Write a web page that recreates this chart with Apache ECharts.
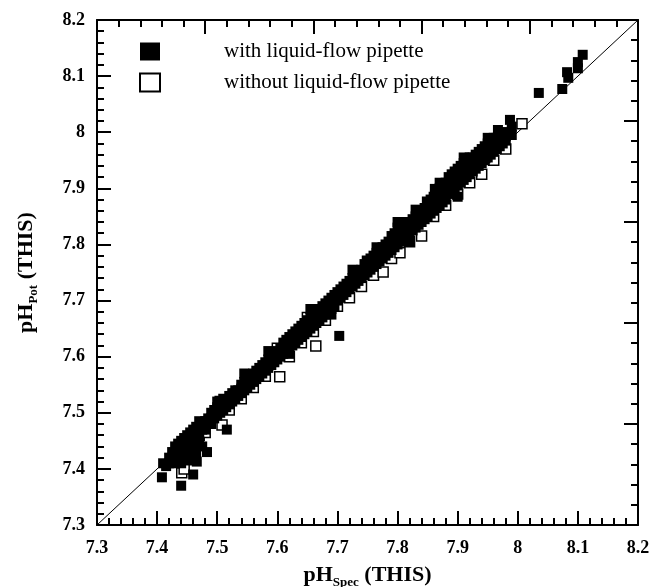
<!doctype html>
<html>
<head>
<meta charset="utf-8">
<title>pH spec vs pot</title>
<script src="https://cdn.jsdelivr.net/npm/echarts@6/dist/echarts.min.js"></script>
<style>
  html, body { margin: 0; padding: 0; background: #fff; }
  #main { width: 653px; height: 587px; }
</style>
</head>
<body>
<div id="main"></div>
<script>
// axis range and tick labels
var axisMin = 7.3, axisMax = 8.2, axisStep = 0.1;
var seriesNames = ['with liquid-flow pipette', 'without liquid-flow pipette'];

// 1:1 reference line ends
var diagLine = [[7.3, 7.3], [8.2, 8.2]];

// with liquid-flow pipette  [pHspec, pHpot]
var withPipette = [
  [7.41,7.41],[7.415,7.405],[7.42,7.41],[7.42,7.42],[7.425,7.43],[7.425,7.415],[7.43,7.44],[7.43,7.42],[7.43,7.41],
  [7.435,7.445],[7.435,7.43],[7.44,7.45],[7.44,7.44],[7.44,7.425],[7.44,7.41],[7.445,7.455],[7.445,7.435],
  [7.45,7.46],[7.45,7.445],[7.45,7.43],[7.455,7.465],[7.455,7.45],[7.455,7.42],[7.46,7.47],[7.46,7.455],[7.46,7.44],
  [7.465,7.475],[7.465,7.46],[7.465,7.43],[7.47,7.485],[7.47,7.465],[7.47,7.45],[7.475,7.47],[7.48,7.485],[7.48,7.47],
  [7.483,7.43],[7.485,7.49],[7.49,7.49],[7.49,7.48],[7.475,7.44],[7.45,7.415],[7.435,7.415],
  [7.408,7.385],[7.44,7.37],[7.46,7.39],[7.466,7.413],[7.516,7.47],
  [7.49,7.50],[7.495,7.505],[7.495,7.49],[7.50,7.51],[7.50,7.495],[7.50,7.52],[7.505,7.51],[7.505,7.50],
  [7.51,7.525],[7.51,7.505],[7.515,7.52],[7.515,7.51],[7.52,7.53],[7.52,7.515],[7.525,7.535],[7.525,7.52],
  [7.53,7.54],[7.53,7.525],[7.535,7.54],[7.535,7.53],[7.54,7.55],[7.54,7.535],[7.545,7.555],[7.545,7.54],
  [7.55,7.56],[7.55,7.545],[7.555,7.565],[7.555,7.55],[7.56,7.57],[7.56,7.555],[7.565,7.575],[7.565,7.56],
  [7.57,7.58],[7.57,7.565],[7.575,7.585],[7.575,7.57],[7.58,7.59],[7.58,7.575],[7.585,7.595],[7.585,7.58],
  [7.59,7.60],[7.59,7.585],[7.595,7.605],[7.595,7.59],[7.60,7.61],[7.60,7.595],[7.605,7.615],[7.605,7.60],
  [7.61,7.625],[7.61,7.605],[7.615,7.63],[7.615,7.61],[7.62,7.635],[7.62,7.615],[7.625,7.64],[7.625,7.62],
  [7.63,7.645],[7.63,7.625],[7.635,7.65],[7.635,7.63],[7.64,7.655],[7.64,7.635],[7.645,7.66],[7.645,7.64],
  [7.65,7.665],[7.65,7.645],[7.655,7.67],[7.655,7.65],[7.66,7.675],[7.66,7.655],[7.665,7.68],[7.665,7.66],
  [7.67,7.685],[7.67,7.665],[7.675,7.69],[7.675,7.67],[7.68,7.695],[7.68,7.675],[7.685,7.70],[7.685,7.68],
  [7.69,7.705],[7.69,7.685],[7.695,7.71],[7.695,7.69],[7.70,7.715],[7.70,7.70],[7.705,7.72],[7.705,7.705],
  [7.71,7.725],[7.71,7.71],[7.715,7.73],[7.715,7.715],[7.72,7.735],[7.72,7.72],[7.725,7.74],[7.725,7.725],
  [7.73,7.745],[7.73,7.73],[7.735,7.75],[7.735,7.735],[7.74,7.755],[7.74,7.74],[7.745,7.765],[7.745,7.745],
  [7.75,7.77],[7.75,7.75],[7.755,7.775],[7.755,7.755],[7.76,7.78],[7.76,7.76],[7.765,7.785],[7.765,7.765],
  [7.77,7.79],[7.77,7.77],[7.775,7.795],[7.775,7.775],[7.78,7.80],[7.78,7.78],[7.785,7.805],[7.785,7.785],
  [7.79,7.815],[7.79,7.79],[7.795,7.82],[7.795,7.795],[7.80,7.83],[7.80,7.80],[7.805,7.835],[7.805,7.805],
  [7.81,7.835],[7.81,7.81],[7.815,7.84],[7.815,7.815],[7.82,7.84],[7.82,7.82],[7.825,7.845],[7.825,7.825],
  [7.83,7.85],[7.83,7.83],[7.835,7.855],[7.835,7.835],[7.84,7.86],[7.84,7.84],[7.845,7.865],[7.845,7.845],
  [7.85,7.875],[7.85,7.85],[7.855,7.88],[7.855,7.855],[7.86,7.885],[7.86,7.86],[7.865,7.89],[7.865,7.865],
  [7.87,7.90],[7.87,7.87],[7.875,7.905],[7.875,7.875],[7.88,7.91],[7.88,7.88],[7.885,7.92],[7.885,7.89],
  [7.89,7.925],[7.89,7.895],[7.895,7.93],[7.895,7.90],[7.90,7.935],[7.90,7.905],[7.905,7.94],[7.905,7.91],
  [7.91,7.945],[7.91,7.915],[7.915,7.95],[7.915,7.92],[7.92,7.955],[7.92,7.925],[7.925,7.955],[7.925,7.93],
  [7.93,7.96],[7.93,7.935],[7.935,7.965],[7.935,7.94],[7.94,7.97],[7.94,7.945],[7.945,7.975],[7.945,7.95],
  [7.95,7.98],[7.95,7.955],[7.955,7.985],[7.955,7.96],[7.96,7.99],[7.96,7.965],[7.965,7.99],[7.965,7.97],
  [7.97,7.995],[7.97,7.975],[7.975,8.00],[7.975,7.98],[7.98,8.00],[7.98,7.985],[7.99,8.01],[7.99,7.995],
  // middle of the band
  [7.50,7.503],[7.51,7.515],[7.52,7.523],[7.53,7.533],[7.54,7.543],[7.55,7.553],[7.56,7.563],[7.57,7.573],
  [7.58,7.583],[7.59,7.593],[7.60,7.603],[7.61,7.616],[7.62,7.626],[7.63,7.636],[7.64,7.646],[7.65,7.656],
  [7.66,7.666],[7.67,7.676],[7.68,7.686],[7.69,7.696],[7.70,7.708],[7.71,7.718],[7.72,7.728],[7.73,7.738],
  [7.74,7.748],[7.75,7.76],[7.76,7.77],[7.77,7.78],[7.78,7.79],[7.79,7.802],[7.80,7.815],[7.81,7.822],
  [7.82,7.83],[7.83,7.84],[7.84,7.85],[7.85,7.862],[7.86,7.872],[7.87,7.885],[7.88,7.895],[7.89,7.91],
  [7.90,7.92],[7.91,7.93],[7.92,7.94],[7.93,7.948],[7.94,7.958],[7.95,7.968],[7.96,7.978],[7.97,7.985],
  [7.98,7.993],
  // bumps along the edges
  [7.585,7.61],[7.655,7.685],[7.725,7.755],[7.80,7.84],[7.83,7.862],[7.87,7.91],[7.91,7.955],[7.95,7.99],
  [7.62,7.605],[7.69,7.675],[7.82,7.805],[7.90,7.885],[7.545,7.57],[7.765,7.795],
  // isolated points
  [7.967,8.004],[7.987,8.022],[8.035,8.07],[8.074,8.077],[8.082,8.107],[8.084,8.097],[8.10,8.114],
  [8.10,8.125],[8.108,8.138],[7.703,7.637],[7.862,7.899],[7.884,7.904]
];

// without liquid-flow pipette  [pHspec, pHpot]
var withoutPipette = [
  [7.441,7.393],[7.445,7.40],[7.505,7.52],[7.508,7.478],[7.43,7.415],[7.47,7.46],[7.48,7.465],[7.52,7.505],
  [7.54,7.525],[7.56,7.545],[7.58,7.565],[7.604,7.564],[7.62,7.60],[7.64,7.625],[7.664,7.619],[7.66,7.645],
  [7.68,7.665],[7.70,7.69],[7.72,7.705],[7.74,7.725],[7.76,7.745],[7.776,7.751],[7.79,7.775],[7.804,7.785],
  [7.82,7.805],[7.84,7.815],[7.86,7.85],[7.88,7.87],[7.90,7.89],[7.92,7.91],[7.94,7.925],[7.96,7.95],
  [7.98,7.97],[8.007,8.015],[7.60,7.615],[7.65,7.67],[7.55,7.565],[7.75,7.77],[7.85,7.875],[7.945,7.955]
];

var serif = '"Liberation Serif", "DejaVu Serif", serif';

var chart = echarts.init(document.getElementById('main'));

function mainAxis(pos, title, gap) {
  return {
    type: 'value',
    position: pos,
    min: axisMin,
    max: axisMax,
    interval: axisStep,
    name: title,
    nameLocation: 'middle',
    nameGap: gap,
    nameTextStyle: {
      rich: {
        a: { fontFamily: serif, fontWeight: 'bold', fontSize: 22, color: '#000', lineHeight: 28, verticalAlign: 'middle' },
        s: { fontFamily: serif, fontWeight: 'bold', fontSize: 13, color: '#000', lineHeight: 28, verticalAlign: 'bottom', padding: [11, 0, 0, 0] }
      }
    },
    axisLine: { show: true, onZero: false, lineStyle: { color: '#000', width: 2 } },
    axisTick: { show: true, inside: true, length: 14, lineStyle: { color: '#000', width: 2 } },
    minorTick: { show: true, splitNumber: 5, length: 7, lineStyle: { color: '#000', width: 2 } },
    splitLine: { show: false },
    axisLabel: { fontFamily: serif, fontWeight: 'bold', fontSize: 18, color: '#000', margin: 12 }
  };
}

function mirrorAxis(pos) {
  return {
    type: 'value',
    position: pos,
    min: 0,
    max: 5,
    interval: 1,
    axisLine: { show: true, onZero: false, lineStyle: { color: '#000', width: 2 } },
    axisTick: { show: true, inside: true, length: 14, lineStyle: { color: '#000', width: 2 } },
    minorTick: { show: true, splitNumber: 5, length: 7, lineStyle: { color: '#000', width: 2 } },
    splitLine: { show: false },
    axisLabel: { show: false }
  };
}

var xMain = mainAxis('bottom', '{a|pH}{s|Spec}{a| (THIS)}', 36);
xMain.axisLabel.margin = 14;
var yMain = mainAxis('left', '{a|pH}{s|Pot}{a| (THIS)}', 57);

chart.setOption({
  animation: false,
  backgroundColor: '#fff',
  grid: { left: 97, right: 15, top: 20, bottom: 62, containLabel: false, outerBoundsMode: 'none' },
  xAxis: [xMain, mirrorAxis('top')],
  yAxis: [yMain, mirrorAxis('right')],
  legend: {
    orient: 'vertical',
    left: 134,
    top: 36,
    itemWidth: 20,
    itemHeight: 18,
    itemGap: 10,
    selectedMode: false,
    data: [
      { name: seriesNames[0], icon: 'rect', itemStyle: { color: '#000', borderWidth: 0 } },
      { name: seriesNames[1], icon: 'rect', itemStyle: { color: '#fff', borderColor: '#000', borderWidth: 2 } }
    ],
    textStyle: { fontFamily: serif, fontSize: 21, color: '#000', padding: [0, 0, 0, 59] }
  },
  series: [
    {
      name: 'diag',
      type: 'line',
      data: diagLine,
      xAxisIndex: 0,
      yAxisIndex: 0,
      symbol: 'none',
      silent: true,
      lineStyle: { color: '#000', width: 1 },
      z: 1
    },
    {
      name: seriesNames[1],
      type: 'scatter',
      data: withoutPipette,
      xAxisIndex: 0,
      yAxisIndex: 0,
      symbol: 'rect',
      symbolSize: 10,
      itemStyle: { color: '#fff', borderColor: '#000', borderWidth: 1.5, opacity: 1 },
      z: 2
    },
    {
      name: seriesNames[0],
      type: 'scatter',
      data: withPipette,
      xAxisIndex: 0,
      yAxisIndex: 0,
      symbol: 'rect',
      symbolSize: 10,
      itemStyle: { color: '#000', opacity: 1 },
      z: 3
    }
  ]
});
</script>
</body>
</html>
